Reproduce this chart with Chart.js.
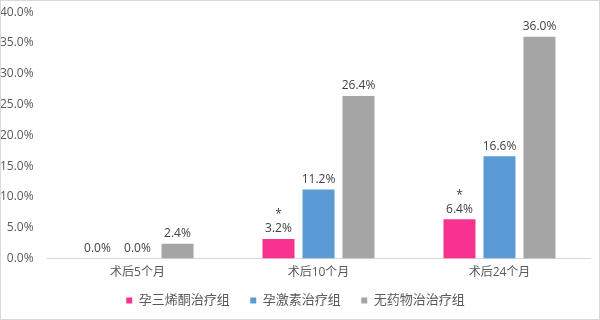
<!DOCTYPE html>
<html>
<head>
<meta charset="utf-8">
<script src="https://cdn.jsdelivr.net/npm/chart.js@4/dist/chart.umd.min.js"></script>
<style>
  html, body { margin:0; padding:0; background:#fff; }
  #wrap { width:598px; height:318px; border:1px solid #d9d9d9; }
  canvas { display:block; }
</style>
</head>
<body>
<div id="wrap"><canvas id="c" width="598" height="318"></canvas></div>
<script>
const categories = ["术后5个月", "术后10个月", "术后24个月"];
const seriesNames = ["孕三烯酮治疗组", "孕激素治疗组", "无药物治治疗组"];
const gestrinone = [0.0, 3.2, 6.4];
const progestin = [0.0, 11.2, 16.6];
const noDrug = [2.4, 26.4, 36.0];
const gestrinoneMarks = ["", "*", "*"];
const yTicks = [0, 5, 10, 15, 20, 25, 30, 35, 40];

const FONT = "'Open Sans', 'Noto Sans CJK SC', sans-serif";

const valueLabels = {
  id: "valueLabels",
  afterDatasetsDraw(chart){
    const ctx = chart.ctx;
    ctx.save();
    ctx.font = "12px " + FONT;
    ctx.fillStyle = "#404040";
    ctx.textAlign = "center";
    ctx.textBaseline = "bottom";
    chart.data.datasets.forEach((ds, i) => {
      const meta = chart.getDatasetMeta(i);
      meta.data.forEach((bar, j) => {
        ctx.fillText(ds.data[j].toFixed(1) + "%", bar.x, bar.y - 4);
        if (i === 0 && gestrinoneMarks[j]) {
          ctx.fillText(gestrinoneMarks[j], bar.x, bar.y - 18);
        }
      });
    });
    ctx.restore();
  }
};

new Chart(document.getElementById("c"), {
  type: "bar",
  data: {
    labels: categories,
    datasets: [
      { label: seriesNames[0], data: gestrinone, backgroundColor: "#f8338f" },
      { label: seriesNames[1], data: progestin, backgroundColor: "#5b9bd5" },
      { label: seriesNames[2], data: noDrug, backgroundColor: "#a5a5a5" },
    ]
  },
  options: {
    responsive: false,
    animation: false,
    layout: { padding: { top: 0, right: 9, left: 0, bottom: 2 } },
    datasets: { bar: { categoryPercentage: 0.663, barPercentage: 0.8 } },
    plugins: {
      tooltip: { enabled: false },
      legend: {
        position: "bottom",
        labels: {
          color: "#595959", font: { size: 13, family: FONT }, boxWidth: 6, boxHeight: 6, padding: 7,
          generateLabels(chart){
            const items = Chart.defaults.plugins.legend.labels.generateLabels(chart);
            items.forEach((it, i) => { if (i < items.length - 1) it.text += "    "; });
            return items;
          }
        }
      }
    },
    scales: {
      x: {
        grid: { display: false, drawTicks: false },
        border: { color: "#d9d9d9" },
        ticks: { color: "#595959", font: { size: 12, family: FONT }, padding: 7 }
      },
      y: {
        min: 0, max: 40,
        afterFit(s){ s.width = 46; },
        afterBuildTicks(s){ s.ticks = yTicks.map(v => ({ value: v })); },
        grid: { display: false, drawTicks: false },
        border: { display: false },
        // trailing spaces keep the gap to the plot without inflating top padding
        ticks: { color: "#595959", font: { size: 12, family: FONT }, padding: 4,
          callback: v => v.toFixed(1) + "%   " }
      }
    }
  },
  plugins: [valueLabels]
});
</script>
</body>
</html>
